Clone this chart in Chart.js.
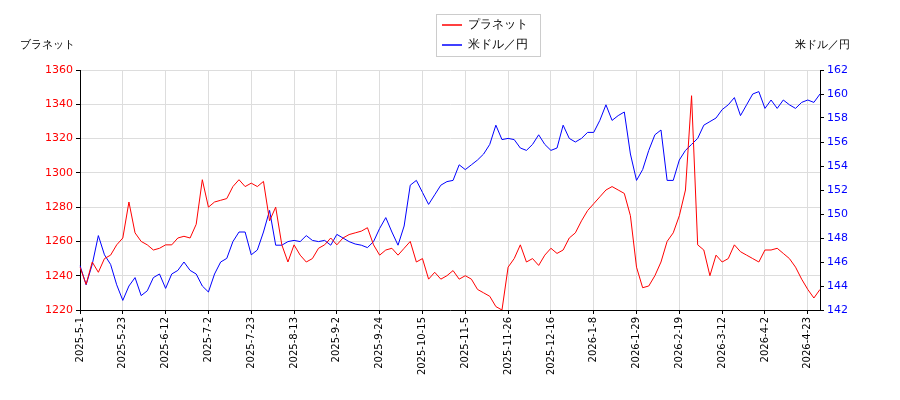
<!DOCTYPE html>
<html>
<head>
<meta charset="utf-8">
<script src="https://cdn.jsdelivr.net/npm/chart.js@4/dist/chart.umd.min.js"></script>
<style>body{margin:0;background:#fff}#wrap{width:900px;height:400px}</style>
</head>
<body>
<div id="wrap"><canvas id="c"></canvas></div>
<script>
// roughly every 3 days from 2025-5-1; a tick label every 7th point
const tickLabels = ["2025-5-1","2025-5-23","2025-6-12","2025-7-2","2025-7-23","2025-8-13","2025-9-2","2025-9-24",
  "2025-10-15","2025-11-5","2025-11-26","2025-12-16","2026-1-8","2026-1-29","2026-2-19","2026-3-12","2026-4-2","2026-4-23"];
const planetValues = [1245,1235,1248,1242,1250,1252,1258,1262,1283,1265,1260,1258,1255,1256,1258,1258,1262,1263,1262,1270,
  1296,1280,1283,1284,1285,1292,1296,1292,1294,1292,1295,1272,1280,1258,1248,1258,1252,1248,1250,1256,
  1258,1262,1258,1262,1264,1265,1266,1268,1258,1252,1255,1256,1252,1256,1260,1248,1250,1238,1242,1238,
  1240,1243,1238,1240,1238,1232,1230,1228,1222,1220,1245,1250,1258,1248,1250,1246,1252,1256,1253,1255,
  1262,1265,1272,1278,1282,1286,1290,1292,1290,1288,1275,1245,1233,1234,1240,1248,1260,1265,1275,1290,
  1345,1258,1255,1240,1252,1248,1250,1258,1254,1252,1250,1248,1255,1255,1256,1253,1250,1245,1238,1232,1227,1232];
const usdJpyValues = [145.7,144.1,145.8,148.2,146.6,145.8,144.1,142.8,144,144.7,143.2,143.6,144.7,145,143.8,145,145.3,146,145.3,145,
  144,143.5,145,146,146.3,147.7,148.5,148.5,146.6,147,148.5,150.3,147.4,147.4,147.7,147.8,147.7,148.2,147.8,147.7,
  147.8,147.4,148.3,148,147.7,147.5,147.4,147.2,147.7,148.8,149.7,148.5,147.4,149,152.4,152.8,151.8,150.8,151.6,152.4,
  152.7,152.8,154.1,153.7,154.1,154.5,155,155.8,157.4,156.2,156.3,156.2,155.5,155.3,155.8,156.6,155.8,155.3,155.5,157.4,
  156.3,156,156.3,156.8,156.8,157.8,159.1,157.8,158.2,158.5,155,152.8,153.7,155.3,156.6,157,152.8,152.8,154.5,155.3,
  155.8,156.3,157.4,157.7,158,158.7,159.1,159.7,158.2,159.1,160,160.2,158.8,159.5,158.8,159.5,159.1,158.8,159.3,159.5,159.3,160];
const seriesNames = ["プラネット", "米ドル／円"];

const labels = planetValues.map((v, i) => i % 7 === 0 ? tickLabels[i / 7] : "");

const font = "DejaVu Sans";
const extras = {
  id: "extras",
  afterDraw(chart) {
    const ctx = chart.ctx;
    ctx.save();
    ctx.font = "11px '" + font + "'";
    ctx.fillStyle = "#000";
    ctx.textBaseline = "middle";
    ctx.textAlign = "left";
    ctx.fillText("ブラネット", 20, 45);
    ctx.textAlign = "right";
    ctx.fillText("米ドル／円", 850, 45);
    // legend
    ctx.strokeStyle = "#ccc";
    ctx.fillStyle = "#fff";
    ctx.fillRect(436, 14, 104, 42);
    ctx.strokeRect(436.5, 14.5, 104, 42);
    const cols = ["#ff0000", "#0000ff"];
    seriesNames.forEach((n, i) => {
      const y = 25 + i * 20;
      ctx.strokeStyle = cols[i];
      ctx.lineWidth = 1.5;
      ctx.beginPath(); ctx.moveTo(442, y); ctx.lineTo(462, y); ctx.stroke();
      ctx.fillStyle = "#000";
      ctx.textAlign = "left";
      ctx.font = "12px '" + font + "'";
      ctx.fillText(n, 468, y);
    });
    ctx.restore();
  }
};

new Chart("c", {
  type: "line",
  data: {
    labels: labels,
    datasets: [
      {label: seriesNames[0], data: planetValues, borderColor: "#ff0000", borderWidth: 1, pointRadius: 0, yAxisID: "y", tension: 0},
      {label: seriesNames[1], data: usdJpyValues, borderColor: "#0000ff", borderWidth: 1, pointRadius: 0, yAxisID: "y1", tension: 0}
    ]
  },
  options: {
    animation: false,
    responsive: true,
    maintainAspectRatio: false,
    layout: {padding: {top: 70, left: 0, right: 0, bottom: 0}},
    plugins: {legend: {display: false}, tooltip: {enabled: false}},
    scales: {
      x: {
        grid: {color: (c) => c.index % 7 === 0 ? "#ddd" : "transparent", tickColor: (c) => c.index % 7 === 0 ? "#000" : "transparent", tickLength: 4},
        border: {color: "#000"},
        afterFit(s) { s.height = 90; },
        ticks: {
          autoSkip: false, maxRotation: 90, minRotation: 90, color: "#000",
          font: {family: font, size: 10}
        }
      },
      y: {
        position: "left", min: 1220, max: 1360,
        afterFit(s) { s.width = 80; },
        grid: {color: "#ddd", tickColor: "#000", tickLength: 4},
        border: {color: "#000"},
        ticks: {stepSize: 20, color: "#ff0000", font: {family: font, size: 11}, callback: (v) => String(v)}
      },
      y1: {
        position: "right", min: 142, max: 162,
        afterFit(s) { s.width = 80; },
        grid: {drawOnChartArea: false, tickColor: "#000", tickLength: 4},
        border: {color: "#000"},
        ticks: {stepSize: 2, color: "#0000ff", font: {family: font, size: 11}, callback: (v) => String(v)}
      }
    }
  },
  plugins: [extras]
});
</script>
</body>
</html>
